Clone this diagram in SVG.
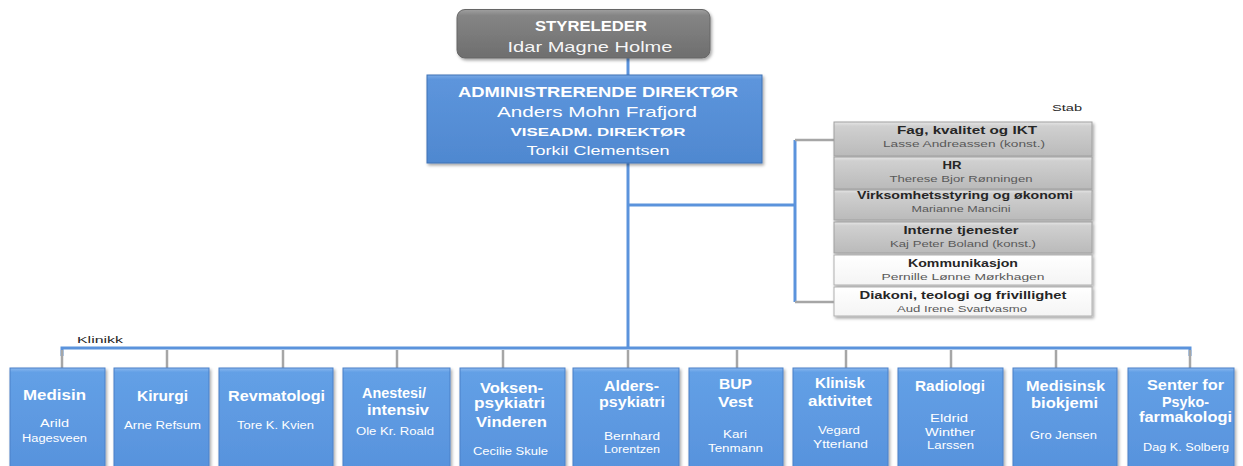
<svg xmlns="http://www.w3.org/2000/svg" width="1243" height="466" viewBox="0 0 1243 466">
<defs>
<linearGradient id="gBlue" x1="0" y1="0" x2="0" y2="1">
<stop offset="0" stop-color="#8ab8ef"/><stop offset="0.04" stop-color="#63a0e6"/><stop offset="1" stop-color="#5792dc"/>
</linearGradient>
<linearGradient id="gAdm" x1="0" y1="0" x2="0" y2="1">
<stop offset="0" stop-color="#7aaae6"/><stop offset="0.05" stop-color="#5d95dc"/><stop offset="1" stop-color="#4f88d0"/>
</linearGradient>
<linearGradient id="gDark" x1="0" y1="0" x2="0" y2="1">
<stop offset="0" stop-color="#a0a0a0"/><stop offset="0.12" stop-color="#858585"/><stop offset="1" stop-color="#6e6e6e"/>
</linearGradient>
<linearGradient id="gGray" x1="0" y1="0" x2="0" y2="1">
<stop offset="0" stop-color="#e6e6e6"/><stop offset="0.12" stop-color="#d0d0d0"/><stop offset="1" stop-color="#bababa"/>
</linearGradient>
<linearGradient id="gWhite" x1="0" y1="0" x2="0" y2="1">
<stop offset="0" stop-color="#ffffff"/><stop offset="1" stop-color="#f4f4f4"/>
</linearGradient>
<filter id="sh" x="-10%" y="-10%" width="130%" height="140%">
<feDropShadow dx="1.5" dy="2" stdDeviation="1.5" flood-color="#000" flood-opacity="0.35"/>
</filter>
<style>
text{font-family:"Liberation Sans",Arial,sans-serif;text-anchor:middle}
.w{fill:#fff}
.k{fill:#262626}
.g{fill:#595959}
.b{font-weight:bold}
.blue{fill:url(#gBlue);stroke:#4a80c8;stroke-width:1;filter:url(#sh)}
.stab{fill:url(#gGray);stroke:#a0a0a0;stroke-width:1;filter:url(#sh)}
.stabw{fill:url(#gWhite);stroke:#b0b0b0;stroke-width:1;filter:url(#sh)}
.bl{stroke:#5b93dc;stroke-width:3;fill:none}
.gr{stroke:#a6a6a6;stroke-width:2.5;fill:none}
.t15{font-size:15px}
.t10{font-size:10px}
.t11{font-size:11px}
.t9{font-size:9px}
</style>
</defs>
<rect width="1243" height="466" fill="#fff"/>

<g id="connectors">
<line class="bl" x1="628" y1="58" x2="628" y2="76"/>
<line class="bl" x1="628" y1="163" x2="628" y2="349"/>
<line class="bl" x1="628" y1="205" x2="795" y2="205"/>
<line class="bl" x1="795" y1="140" x2="795" y2="302"/>
<line class="gr" x1="795" y1="140" x2="834" y2="140"/>
<line class="gr" x1="795" y1="302" x2="834" y2="302"/>
<polyline class="bl" points="62,356 62,348 1190,348 1190,356"/>
<line class="gr" x1="62" y1="350" x2="62" y2="368"/>
<line class="gr" x1="167" y1="350" x2="167" y2="368"/>
<line class="gr" x1="283" y1="350" x2="283" y2="368"/>
<line class="gr" x1="397" y1="350" x2="397" y2="368"/>
<line class="gr" x1="503" y1="350" x2="503" y2="368"/>
<line class="gr" x1="628" y1="350" x2="628" y2="368"/>
<line class="gr" x1="737" y1="350" x2="737" y2="368"/>
<line class="gr" x1="846" y1="350" x2="846" y2="368"/>
<line class="gr" x1="951" y1="350" x2="951" y2="368"/>
<line class="gr" x1="1056" y1="350" x2="1056" y2="368"/>
<line class="gr" x1="1190" y1="350" x2="1190" y2="368"/>
</g>

<g id="styreleder">
<rect x="457" y="9.5" width="253" height="48.5" rx="8" fill="url(#gDark)" stroke="#666" stroke-width="1" filter="url(#sh)"/>
<text class="w b" x="591" y="31" font-size="14" textLength="112" lengthAdjust="spacingAndGlyphs">STYRELEDER</text>
<text class="w" x="590" y="52" font-size="15" fill-opacity="0.95" textLength="165" lengthAdjust="spacingAndGlyphs">Idar Magne Holme</text>
</g>

<g id="adm">
<rect x="427" y="75" width="335" height="88" fill="url(#gAdm)" stroke="#3f73b5" stroke-width="1" filter="url(#sh)"/>
<text class="w b" x="598" y="97" font-size="15.5" textLength="280" lengthAdjust="spacingAndGlyphs">ADMINISTRERENDE DIREKTØR</text>
<text class="w" x="597" y="117" font-size="14.5" textLength="200" lengthAdjust="spacingAndGlyphs">Anders Mohn Frafjord</text>
<text class="w b" x="598" y="136" font-size="11.5" textLength="175" lengthAdjust="spacingAndGlyphs">VISEADM. DIREKTØR</text>
<text class="w" x="598" y="155" font-size="12" textLength="143" lengthAdjust="spacingAndGlyphs">Torkil Clementsen</text>
</g>

<g id="stab-label">
<text class="k t9" x="1067" y="111" textLength="30" lengthAdjust="spacingAndGlyphs">Stab</text>
</g>

<g id="stab1">
<rect class="stab" x="834" y="122" width="258" height="34"/>
<text class="k b t11" x="967" y="134" textLength="140" lengthAdjust="spacingAndGlyphs">Fag, kvalitet og IKT</text>
<text class="g t9" x="964" y="147" textLength="162" lengthAdjust="spacingAndGlyphs">Lasse Andreassen (konst.)</text>
</g>
<g id="stab2">
<rect class="stab" x="834" y="157" width="258" height="32"/>
<text class="k b t11" x="952" y="169" textLength="19" lengthAdjust="spacingAndGlyphs">HR</text>
<text class="g t9" x="961" y="182" textLength="143" lengthAdjust="spacingAndGlyphs">Therese Bjor Rønningen</text>
</g>
<g id="stab3">
<rect class="stab" x="834" y="190" width="258" height="30"/>
<text class="k b t11" x="965" y="199" textLength="216" lengthAdjust="spacingAndGlyphs">Virksomhetsstyring og økonomi</text>
<text class="g t9" x="961" y="212" textLength="99" lengthAdjust="spacingAndGlyphs">Marianne Mancini</text>
</g>
<g id="stab4">
<rect class="stab" x="834" y="222" width="258" height="31"/>
<text class="k b t11" x="961" y="234" textLength="115" lengthAdjust="spacingAndGlyphs">Interne tjenester</text>
<text class="g t9" x="963" y="247" textLength="146" lengthAdjust="spacingAndGlyphs">Kaj Peter Boland (konst.)</text>
</g>
<g id="stab5">
<rect class="stabw" x="834" y="255" width="258" height="30"/>
<text class="k b t11" x="963" y="267" textLength="110" lengthAdjust="spacingAndGlyphs">Kommunikasjon</text>
<text class="g t9" x="963" y="280" textLength="163" lengthAdjust="spacingAndGlyphs">Pernille Lønne Mørkhagen</text>
</g>
<g id="stab6">
<rect class="stabw" x="834" y="287" width="258" height="29"/>
<text class="k b t11" x="963" y="299" textLength="207" lengthAdjust="spacingAndGlyphs">Diakoni, teologi og frivillighet</text>
<text class="g t9" x="962" y="312" textLength="130" lengthAdjust="spacingAndGlyphs">Aud Irene Svartvasmo</text>
</g>

<g id="klinikk-label">
<text class="k t9" x="100" y="343" textLength="46" lengthAdjust="spacingAndGlyphs">Klinikk</text>
</g>

<g id="medisin">
<rect class="blue" x="10" y="368" width="95" height="104"/>
<text class="w b t15" x="54.5" y="400" textLength="63" lengthAdjust="spacingAndGlyphs">Medisin</text>
<text class="w t10" x="54.5" y="427" textLength="29" lengthAdjust="spacingAndGlyphs">Arild</text>
<text class="w t10" x="54.5" y="442" textLength="65" lengthAdjust="spacingAndGlyphs">Hagesveen</text>
</g>
<g id="kirurgi">
<rect class="blue" x="114" y="368" width="95" height="104"/>
<text class="w b t15" x="162.5" y="401" textLength="51" lengthAdjust="spacingAndGlyphs">Kirurgi</text>
<text class="w t10" x="162.5" y="429" textLength="77" lengthAdjust="spacingAndGlyphs">Arne Refsum</text>
</g>
<g id="revmatologi">
<rect class="blue" x="219" y="368" width="114" height="104"/>
<text class="w b t15" x="276.5" y="401" textLength="97" lengthAdjust="spacingAndGlyphs">Revmatologi</text>
<text class="w t10" x="275.5" y="429" textLength="77" lengthAdjust="spacingAndGlyphs">Tore K. Kvien</text>
</g>
<g id="anestesi">
<rect class="blue" x="343" y="368" width="107" height="104"/>
<text class="w b t15" x="394" y="398" textLength="64" lengthAdjust="spacingAndGlyphs">Anestesi/</text>
<text class="w b t15" x="398" y="415" textLength="62" lengthAdjust="spacingAndGlyphs">intensiv</text>
<text class="w t10" x="395" y="435" textLength="78" lengthAdjust="spacingAndGlyphs">Ole Kr. Roald</text>
</g>
<g id="voksen">
<rect class="blue" x="460" y="368" width="105" height="104"/>
<text class="w b t15" x="511.5" y="393" textLength="63" lengthAdjust="spacingAndGlyphs">Voksen-</text>
<text class="w b t15" x="509.5" y="408" textLength="71" lengthAdjust="spacingAndGlyphs">psykiatri</text>
<text class="w b t15" x="511.5" y="427" textLength="71" lengthAdjust="spacingAndGlyphs">Vinderen</text>
<text class="w t10" x="510.5" y="455" textLength="75" lengthAdjust="spacingAndGlyphs">Cecilie Skule</text>
</g>
<g id="alders">
<rect class="blue" x="573" y="368" width="106" height="104"/>
<text class="w b t15" x="631.5" y="391" textLength="55" lengthAdjust="spacingAndGlyphs">Alders-</text>
<text class="w b t15" x="632" y="407" textLength="66" lengthAdjust="spacingAndGlyphs">psykiatri</text>
<text class="w t10" x="632" y="440" textLength="56" lengthAdjust="spacingAndGlyphs">Bernhard</text>
<text class="w t10" x="632" y="453" textLength="56" lengthAdjust="spacingAndGlyphs">Lorentzen</text>
</g>
<g id="bup">
<rect class="blue" x="689" y="368" width="94" height="104"/>
<text class="w b t15" x="735.5" y="389" textLength="33" lengthAdjust="spacingAndGlyphs">BUP</text>
<text class="w b t15" x="735.5" y="407" textLength="35" lengthAdjust="spacingAndGlyphs">Vest</text>
<text class="w t10" x="735" y="438" textLength="24" lengthAdjust="spacingAndGlyphs">Kari</text>
<text class="w t10" x="735.5" y="452" textLength="55" lengthAdjust="spacingAndGlyphs">Tenmann</text>
</g>
<g id="klinisk">
<rect class="blue" x="793" y="368" width="95" height="104"/>
<text class="w b t15" x="840" y="388" textLength="50" lengthAdjust="spacingAndGlyphs">Klinisk</text>
<text class="w b t15" x="840" y="406" textLength="64" lengthAdjust="spacingAndGlyphs">aktivitet</text>
<text class="w t10" x="839" y="434" textLength="42" lengthAdjust="spacingAndGlyphs">Vegard</text>
<text class="w t10" x="840.5" y="448" textLength="55" lengthAdjust="spacingAndGlyphs">Ytterland</text>
</g>
<g id="radiologi">
<rect class="blue" x="898" y="368" width="105" height="104"/>
<text class="w b t15" x="950" y="391" textLength="70" lengthAdjust="spacingAndGlyphs">Radiologi</text>
<text class="w t10" x="949" y="422" textLength="38" lengthAdjust="spacingAndGlyphs">Eldrid</text>
<text class="w t10" x="950" y="436" textLength="50" lengthAdjust="spacingAndGlyphs">Winther</text>
<text class="w t10" x="950.5" y="449" textLength="47" lengthAdjust="spacingAndGlyphs">Larssen</text>
</g>
<g id="medisinsk">
<rect class="blue" x="1013" y="368" width="104" height="104"/>
<text class="w b t15" x="1065.5" y="391" textLength="79" lengthAdjust="spacingAndGlyphs">Medisinsk</text>
<text class="w b t15" x="1064.5" y="408" textLength="67" lengthAdjust="spacingAndGlyphs">biokjemi</text>
<text class="w t10" x="1063.5" y="439" textLength="67" lengthAdjust="spacingAndGlyphs">Gro Jensen</text>
</g>
<g id="senter">
<rect class="blue" x="1128" y="368" width="106" height="104"/>
<text class="w b t15" x="1185.5" y="390" textLength="77" lengthAdjust="spacingAndGlyphs">Senter for</text>
<text class="w b t15" x="1185.5" y="407" textLength="47" lengthAdjust="spacingAndGlyphs">Psyko-</text>
<text class="w b t15" x="1185.5" y="422" textLength="93" lengthAdjust="spacingAndGlyphs">farmakologi</text>
<text class="w t10" x="1186" y="451" textLength="86" lengthAdjust="spacingAndGlyphs">Dag K. Solberg</text>
</g>
</svg>
